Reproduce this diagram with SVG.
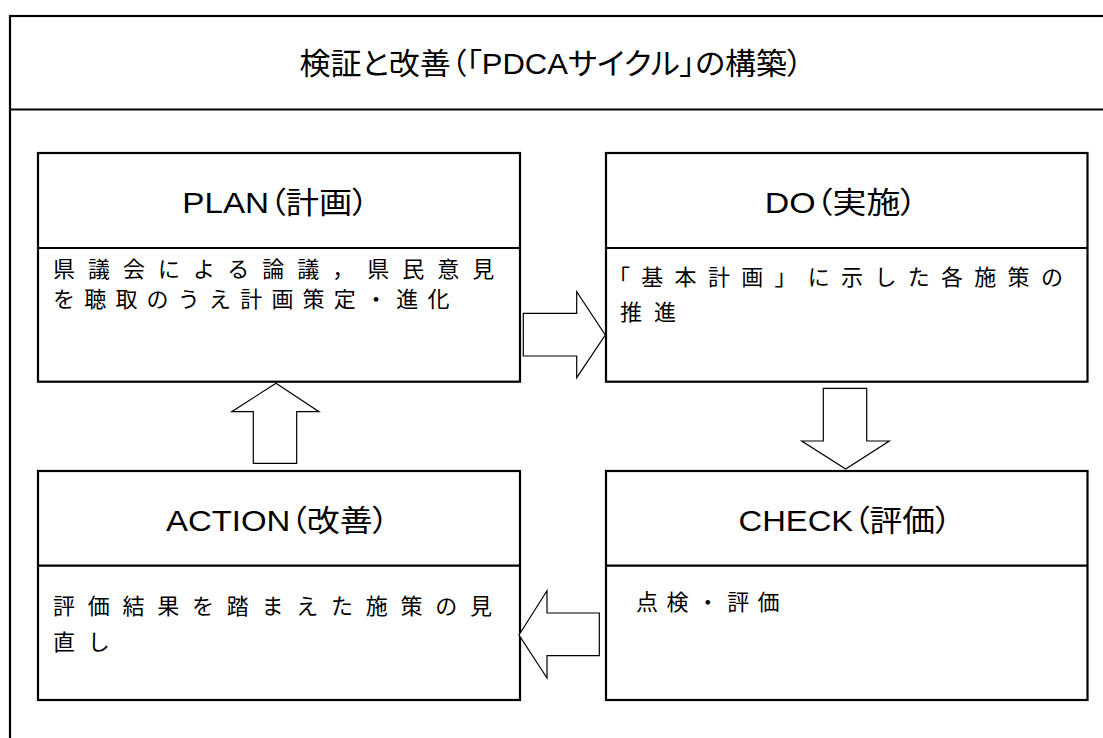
<svg xmlns="http://www.w3.org/2000/svg" width="1103" height="738" viewBox="0 0 1103 738">
<style>
.frame{fill:none;stroke:#000;stroke-width:2.2}
.box{fill:#fff;stroke:#000;stroke-width:2.2}
.sep{stroke:#000;stroke-width:2.2}
.arrow{fill:#fff;stroke:#000;stroke-width:1.2;stroke-linejoin:miter}
.title{font-family:"Liberation Sans","Noto Sans CJK JP",sans-serif;font-size:30px;fill:#000;text-anchor:middle;font-feature-settings:"palt"}
.head{font-family:"Liberation Sans","Noto Sans CJK JP",sans-serif;font-size:30px;fill:#000;text-anchor:middle;font-feature-settings:"palt"}
.body{font-family:"Noto Sans CJK JP",sans-serif;font-size:22px;fill:#000}
</style>
<rect width="1103" height="738" fill="#fff"/>
<g id="frame">
<rect class="frame" x="10" y="16" width="1110" height="740"/>
<line class="sep" x1="10" y1="109.5" x2="1110" y2="109.5"/>
<text class="title" x="551" y="74" textLength="503" lengthAdjust="spacingAndGlyphs">検証と改善（「PDCAサイクル」の構築）</text>
</g>
<g id="plan">
<rect class="box" x="38" y="153" width="482" height="228.7"/>
<line class="sep" x1="38" y1="248" x2="520" y2="248"/>
<text class="head" x="275.5" y="213" textLength="186.5" lengthAdjust="spacingAndGlyphs">PLAN（計画）</text>
<text class="body" x="53" y="276.5" letter-spacing="13">県議会による論議，県民意見</text>
<text class="body" x="53" y="306.5" letter-spacing="9.2">を聴取のうえ計画策定・進化</text>
</g>
<g id="do">
<rect class="box" x="606" y="153" width="481.5" height="228.7"/>
<line class="sep" x1="606" y1="248" x2="1087.5" y2="248"/>
<text class="head" x="841" y="213" textLength="152.5" lengthAdjust="spacingAndGlyphs">DO（実施）</text>
<text class="body" x="608" y="285" letter-spacing="11.3">「基本計画」に示した各施策の</text>
<text class="body" x="620" y="320" letter-spacing="12">推進</text>
</g>
<g id="action">
<rect class="box" x="38" y="471" width="482" height="229"/>
<line class="sep" x1="38" y1="565.7" x2="520" y2="565.7"/>
<text class="head" x="277.5" y="531" textLength="223" lengthAdjust="spacingAndGlyphs">ACTION（改善）</text>
<text class="body" x="53" y="613.5" letter-spacing="12.75">評価結果を踏まえた施策の見</text>
<text class="body" x="53" y="650" letter-spacing="12.75">直し</text>
</g>
<g id="check">
<rect class="box" x="606" y="471" width="481.5" height="229"/>
<line class="sep" x1="606" y1="565.7" x2="1087.5" y2="565.7"/>
<text class="head" x="845" y="531" textLength="213" lengthAdjust="spacingAndGlyphs">CHECK（評価）</text>
<text class="body" x="636" y="610" letter-spacing="8.4">点検・評価</text>
</g>
<g id="connectors">
<polygon class="arrow" points="523.3,313.3 576.7,313.3 576.7,291.7 605.3,335 576.7,377.7 576.7,356 523.3,356"/>
<polygon class="arrow" points="823.3,388.3 866.7,388.3 866.7,441 889.3,441 845.7,469 801.7,441 823.3,441"/>
<polygon class="arrow" points="276,383.3 319,411.7 296.7,411.7 296.7,463.3 253.3,463.3 253.3,411.7 231.7,411.7"/>
<polygon class="arrow" points="519,635 547,590.7 547,613 599.3,613 599.3,655.7 547,655.7 547,678"/>
</g>
</svg>
